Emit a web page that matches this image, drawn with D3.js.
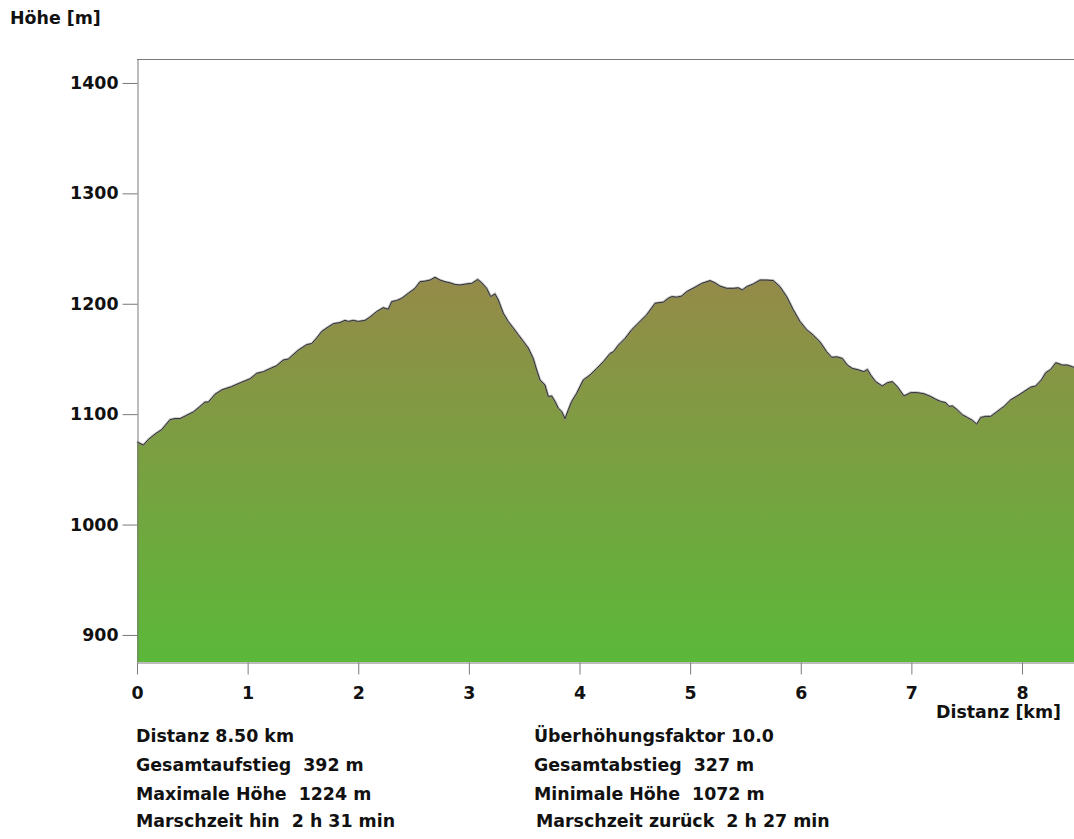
<!DOCTYPE html>
<html>
<head>
<meta charset="utf-8">
<script src="https://cdn.jsdelivr.net/npm/d3@7"></script>
<style>
	body { margin: 0; background: #ffffff; overflow: hidden; }
	svg { display: block; }
	text { font-family: 'DejaVu Sans', sans-serif; font-weight: bold; fill: #111111; }
</style>
</head>
<body>
<script>
// Profile: distance [km] and height [m]
const distKm = [
	0.00, 0.057, 0.102, 0.163, 0.223, 0.298, 0.343, 0.389, 0.449, 0.509, 0.569, 0.615, 0.645, 0.705, 0.766, 0.856, 0.946,
	1.021, 1.082, 1.142, 1.218, 1.263, 1.322, 1.368, 1.458, 1.534, 1.579, 1.624, 1.670, 1.729, 1.775, 1.835, 1.880, 1.910, 1.955,
	2.000, 2.061, 2.106, 2.167, 2.226, 2.271, 2.302, 2.348, 2.393, 2.452, 2.513, 2.558, 2.603, 2.649, 2.694, 2.739, 2.784, 2.829,
	2.875, 2.920, 2.980, 3.026, 3.080, 3.116, 3.161, 3.197, 3.236, 3.266, 3.311, 3.356, 3.402, 3.447, 3.492, 3.537, 3.582, 3.613,
	3.643, 3.688, 3.718, 3.749, 3.779, 3.808, 3.839, 3.869, 3.899, 3.929, 3.975, 4.034, 4.095, 4.156, 4.215, 4.276, 4.306, 4.351,
	4.411, 4.472, 4.547, 4.607, 4.683, 4.758, 4.803, 4.834, 4.879, 4.924, 4.969, 5.044, 5.105, 5.180, 5.225, 5.270, 5.331, 5.390,
	5.436, 5.472, 5.511, 5.571, 5.632, 5.692, 5.752, 5.812, 5.873, 5.933, 5.993, 6.054, 6.114, 6.174, 6.235, 6.280, 6.325, 6.376,
	6.421, 6.466, 6.526, 6.571, 6.602, 6.632, 6.677, 6.737, 6.782, 6.828, 6.873, 6.933, 6.994, 7.054, 7.114, 7.175, 7.220, 7.265,
	7.310, 7.340, 7.370, 7.415, 7.460, 7.506, 7.551, 7.590, 7.627, 7.672, 7.717, 7.777, 7.837, 7.898, 7.973, 8.018, 8.079, 8.124,
	8.175, 8.214, 8.259, 8.305, 8.325, 8.364, 8.410, 8.455, 8.500
]
const elevM = [
	1075, 1072, 1077, 1082, 1086, 1095, 1096, 1096, 1099, 1102, 1107, 1111, 1111, 1118, 1122, 1125, 1129,
	1132, 1137, 1138.5, 1142, 1144, 1149, 1150, 1158, 1163, 1164, 1169, 1175, 1179, 1182, 1183, 1185, 1184, 1185,
	1184, 1185, 1188, 1193, 1196.5, 1195, 1202, 1203, 1205, 1209.5, 1214, 1220, 1220.5, 1221.5, 1224, 1221.5, 1220, 1219,
	1217.5, 1217, 1218, 1218.5, 1222, 1219, 1214, 1206.5, 1209, 1203.5, 1191.5, 1184, 1178, 1172, 1166, 1160, 1150.5, 1140,
	1131, 1126.5, 1116, 1116.5, 1111.5, 1105.5, 1102.5, 1096, 1104, 1111.5, 1119, 1131, 1135.5, 1141.5, 1147.5, 1155, 1156.5, 1162.5,
	1168.5, 1176.5, 1184, 1190, 1200.5, 1201.5, 1205, 1206.5, 1206, 1207, 1211, 1215, 1218.5, 1221, 1219, 1216, 1214, 1214,
	1214.5, 1212.5, 1215.5, 1218, 1221.5, 1221.5, 1221, 1215.5, 1206.5, 1194.5, 1184, 1176.5, 1171.5, 1165.5, 1156.5, 1151.5, 1152, 1150.5,
	1144.5, 1141.5, 1140, 1138.5, 1140.5, 1135.5, 1129.5, 1125.5, 1128.5, 1129.5, 1125, 1116.5, 1119.5, 1119.5, 1118.5, 1116, 1113.5, 1111.5,
	1110.5, 1107, 1107.5, 1104, 1099.5, 1097, 1094.5, 1091, 1097, 1098, 1098, 1102.5, 1107, 1113, 1117.5, 1120.5, 1124.5, 1125.5,
	1131, 1137.5, 1140.5, 1146.5, 1146, 1144.5, 1144.5, 1143, 1141
]

const yTicks = [900, 1000, 1100, 1200, 1300, 1400]
const xTicks = [0, 1, 2, 3, 4, 5, 6, 7, 8]

const statsLeft = ['Distanz 8.50 km', 'Gesamtaufstieg  392 m', 'Maximale Höhe  1224 m', 'Marschzeit hin  2 h 31 min']
const statsRight = ['Überhöhungsfaktor 10.0', 'Gesamtabstieg  327 m', 'Minimale Höhe  1072 m', 'Marschzeit zurück  2 h 27 min']

const width = 1074, height = 839
const plot = {left: 137, top: 59, bottom: 662}
const fontSize = '17.4px'

const svg = d3.select('body').append('svg')
	.attr('width', width).attr('height', height)

const x = d3.scaleLinear().domain([0, 8.5]).range([plot.left, plot.left + 8.5*110.625])
const y = d3.scaleLinear().domain([875.5, 1421.7]).range([plot.bottom, plot.top])

const points = distKm.map((d, i) => [d, elevM[i]])

// Fill gradient, olive at the summit down to green at the base
const grad = svg.append('defs').append('linearGradient')
	.attr('id', 'fill').attr('gradientUnits', 'userSpaceOnUse')
	.attr('x1', 0).attr('x2', 0)
	.attr('y1', y(d3.max(elevM))).attr('y2', plot.bottom)
grad.append('stop').attr('offset', 0).attr('stop-color', '#958a48')
grad.append('stop').attr('offset', 1).attr('stop-color', '#5bb839')

const area = d3.area()
	.x(d => x(d[0])).y0(plot.bottom).y1(d => y(d[1]))

const line = d3.line()
	.x(d => x(d[0])).y(d => y(d[1]))

svg.append('path')
	.attr('d', area(points))
	.style('fill', 'url(#fill)')

svg.append('path')
	.attr('d', line(points))
	.style('fill', 'none').style('stroke', '#8a8a8a').style('stroke-width', 2.6).style('opacity', 0.55)

svg.append('path')
	.attr('d', line(points))
	.style('fill', 'none').style('stroke', '#2e2e2e').style('stroke-width', 1)

// Frame top
svg.append('line')
	.attr('x1', plot.left).attr('x2', width)
	.attr('y1', plot.top + 0.5).attr('y2', plot.top + 0.5)
	.style('stroke', '#7a7a7a')

// Axes
const yAxis = svg.append('g')
	.attr('transform', `translate(${plot.left + 0.5},0)`)
	.call(d3.axisLeft(y).tickValues(yTicks).tickFormat(d3.format('d'))
		.tickSize(15).tickSizeOuter(0).tickPadding(4))
yAxis.attr('font-family', null).attr('font-size', null)
yAxis.selectAll('text').style('font-size', fontSize)

const xAxis = svg.append('g')
	.attr('transform', `translate(0,${plot.bottom + 0.5})`)
	.call(d3.axisBottom(x).tickValues(xTicks).tickFormat(d3.format('d'))
		.tickSize(12).tickSizeOuter(0).tickPadding(12))
xAxis.attr('font-family', null).attr('font-size', null)
xAxis.selectAll('text').style('font-size', fontSize)

svg.selectAll('.domain, .tick line').style('stroke', '#7a7a7a')

// Axis titles
svg.append('text')
	.attr('x', 10).attr('y', 24)
	.style('font-size', fontSize)
	.text('Höhe [m]')

svg.append('text')
	.attr('x', 1061).attr('y', 718)
	.style('font-size', fontSize).style('text-anchor', 'end')
	.text('Distanz [km]')

// Summary lines below the chart
const rowY = [742, 771, 800, 827]

svg.selectAll('.statL').data(statsLeft).enter().append('text')
	.attr('class', 'statL')
	.attr('x', 136).attr('y', (d, i) => rowY[i])
	.style('font-size', fontSize).style('white-space', 'pre')
	.text(d => d)

svg.selectAll('.statR').data(statsRight).enter().append('text')
	.attr('class', 'statR')
	.attr('x', (d, i) => i == 3 ? 536 : 534).attr('y', (d, i) => rowY[i])
	.style('font-size', fontSize).style('white-space', 'pre')
	.text(d => d)
</script>
</body>
</html>
